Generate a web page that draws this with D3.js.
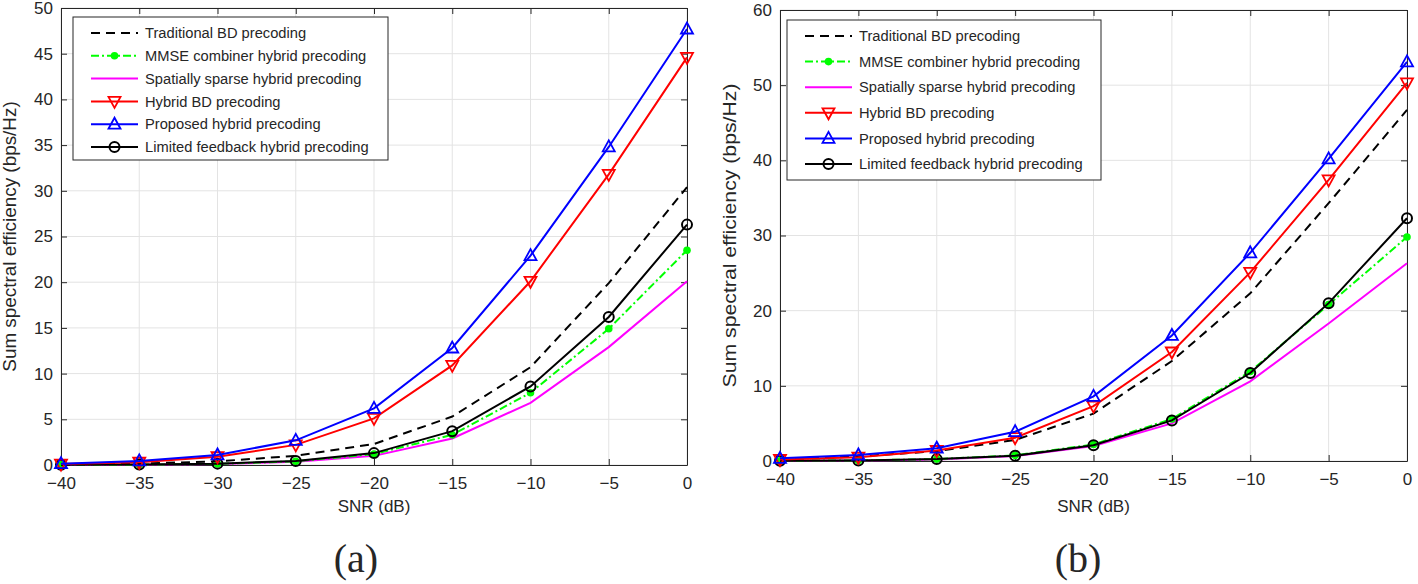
<!DOCTYPE html>
<html>
<head>
<meta charset="utf-8">
<script src="https://cdn.jsdelivr.net/npm/d3@7"></script>
<style>
  body { margin: 0; background: #fff; }
  text { font-family: "Liberation Sans", Arial, sans-serif; fill: #262626; }
</style>
</head>
<body>
<svg id="chart" width="1418" height="584"></svg>
<script>
// SNR (dB) samples, shared by both panels
var snr = [-40, -35, -30, -25, -20, -15, -10, -5, 0];
var xTicks = [-40, -35, -30, -25, -20, -15, -10, -5, 0];
var yTicksA = [0, 5, 10, 15, 20, 25, 30, 35, 40, 45, 50];
var yTicksB = [0, 10, 20, 30, 40, 50, 60];

var legendNames = [
  'Traditional BD precoding',
  'MMSE combiner hybrid precoding',
  'Spatially sparse hybrid precoding',
  'Hybrid BD precoding',
  'Proposed hybrid precoding',
  'Limited feedback hybrid precoding'
];

// panel (a)
var tradA   = [0.05, 0.15, 0.4, 1.0, 2.3, 5.3, 10.7, 19.9, 30.4];
var mmseA   = [0.01, 0.04, 0.12, 0.4, 1.2, 3.3, 7.9, 14.9, 23.5];
var sparseA = [0.01, 0.03, 0.1, 0.35, 1.0, 2.9, 6.8, 12.9, 20.1];
var hbdA    = [0.1, 0.3, 0.9, 2.2, 5.1, 10.9, 20.1, 31.8, 44.6];
var propA   = [0.15, 0.45, 1.1, 2.7, 6.2, 12.8, 22.9, 34.8, 47.7];
var lfA     = [0.02, 0.05, 0.15, 0.45, 1.3, 3.7, 8.6, 16.2, 26.3];

// panel (b)
var tradB   = [0.2, 0.6, 1.3, 2.8, 6.3, 13.3, 22.3, 34.3, 46.7];
var mmseB   = [0.03, 0.08, 0.25, 0.75, 2.2, 5.6, 11.9, 20.8, 29.8];
var sparseB = [0.02, 0.07, 0.2, 0.65, 2.0, 5.0, 10.6, 18.3, 26.3];
var hbdB    = [0.2, 0.5, 1.4, 3.1, 7.3, 14.5, 25.1, 37.4, 50.3];
var propB   = [0.35, 0.8, 1.7, 3.9, 8.6, 16.7, 27.7, 40.2, 53.1];
var lfB     = [0.03, 0.08, 0.25, 0.7, 2.1, 5.4, 11.7, 21.0, 32.3];

// line styles, same order as legendNames
var styles = [
  { color: '#000000', dash: '9,6',     marker: null },
  { color: '#00ff00', dash: '8,3,2,3', marker: 'dot' },
  { color: '#ff00ff', dash: null,      marker: null },
  { color: '#ff0000', dash: null,      marker: 'down' },
  { color: '#0000ff', dash: null,      marker: 'up' },
  { color: '#000000', dash: null,      marker: 'circle' }
];

var svg = d3.select('svg#chart');

function marker(g, type, cx, cy, color) {
  if (type === 'dot') {
    g.append('circle').attr('cx', cx).attr('cy', cy).attr('r', 3.8)
      .attr('fill', color);
  } else if (type === 'circle') {
    g.append('circle').attr('cx', cx).attr('cy', cy).attr('r', 5)
      .attr('fill', 'none').attr('stroke', color).attr('stroke-width', 2);
  } else if (type === 'up' || type === 'down') {
    var s = type === 'up' ? 1 : -1;
    var pts = [[cx, cy - 6.5 * s], [cx - 6, cy + 4.5 * s], [cx + 6, cy + 4.5 * s]];
    g.append('path').attr('d', 'M' + pts.join('L') + 'Z')
      .attr('fill', 'none').attr('stroke', color).attr('stroke-width', 1.8);
  }
}

function drawPanel(p) {
  var g = svg.append('g');
  var x = d3.scaleLinear().domain([-40, 0]).range([p.left, p.right]);
  var y = d3.scaleLinear().domain([0, p.yMax]).range([p.bottom, p.top]);

  // grid
  g.selectAll('.vg').data(xTicks).enter().append('line')
    .attr('x1', function(d) { return x(d); }).attr('x2', function(d) { return x(d); })
    .attr('y1', p.top).attr('y2', p.bottom)
    .attr('stroke', '#e3e3e3').attr('stroke-width', 1);
  g.selectAll('.hg').data(p.yTicks).enter().append('line')
    .attr('x1', p.left).attr('x2', p.right)
    .attr('y1', function(d) { return y(d); }).attr('y2', function(d) { return y(d); })
    .attr('stroke', '#e3e3e3').attr('stroke-width', 1);

  // axes, ticks pointing inwards
  g.append('g').attr('transform', 'translate(0,' + p.bottom + ')')
    .call(d3.axisBottom(x).tickValues(xTicks).tickSize(-6).tickSizeOuter(0).tickPadding(12));
  g.append('g').attr('transform', 'translate(' + p.left + ',0)')
    .call(d3.axisLeft(y).tickValues(p.yTicks).tickSize(-6).tickSizeOuter(0).tickPadding(8));
  g.append('g').attr('transform', 'translate(0,' + p.top + ')')
    .call(d3.axisTop(x).tickValues(xTicks).tickSize(-6).tickSizeOuter(0).tickFormat(''));
  g.append('g').attr('transform', 'translate(' + p.right + ',0)')
    .call(d3.axisRight(y).tickValues(p.yTicks).tickSize(-6).tickSizeOuter(0).tickFormat(''));
  g.selectAll('.domain, .tick line').attr('stroke', '#262626');
  g.selectAll('.tick text').attr('font-size', 17).attr('fill', '#262626')
    .style('font-family', '"Liberation Sans", Arial, sans-serif');

  // series
  var line = d3.line()
    .x(function(d, i) { return x(snr[i]); })
    .y(function(d) { return y(d); });
  var drawOrder = [2, 1, 0, 5, 3, 4];
  drawOrder.forEach(function(k) {
    var st = styles[k];
    g.append('path').datum(p.series[k])
      .attr('d', line)
      .attr('fill', 'none')
      .attr('stroke', st.color)
      .attr('stroke-width', 2)
      .attr('stroke-dasharray', st.dash);
    if (st.marker) {
      p.series[k].forEach(function(v, i) {
        marker(g, st.marker, x(snr[i]), y(v), st.color);
      });
    }
  });

  // legend
  var lg = g.append('g');
  lg.append('rect')
    .attr('x', p.legend.x).attr('y', p.legend.y)
    .attr('width', p.legend.w).attr('height', p.legend.h)
    .attr('fill', '#fff').attr('stroke', '#262626').attr('stroke-width', 1);
  legendNames.forEach(function(name, i) {
    var st = styles[i];
    var ly = p.legend.y + p.legend.first + i * p.legend.step;
    var x0 = p.legend.x + 18, x1 = x0 + 47;
    lg.append('line').attr('x1', x0).attr('x2', x1).attr('y1', ly).attr('y2', ly)
      .attr('stroke', st.color).attr('stroke-width', 2).attr('stroke-dasharray', st.dash);
    if (st.marker) marker(lg, st.marker, (x0 + x1) / 2, ly, st.color);
    lg.append('text').attr('x', x1 + 7).attr('y', ly).attr('dy', '0.35em')
      .attr('font-size', p.legend.font).text(name);
  });

  // labels
  g.append('text')
    .attr('transform', 'translate(' + p.yLabelX + ',' + ((p.top + p.bottom) / 2) + ') rotate(-90) scale(' + p.yLabelStretch + ',1)')
    .attr('text-anchor', 'middle').attr('font-size', 18)
    .text('Sum spectral efficiency (bps/Hz)');
  g.append('text')
    .attr('x', (p.left + p.right) / 2).attr('y', 512)
    .attr('text-anchor', 'middle').attr('font-size', 17)
    .text('SNR (dB)');
  g.append('text')
    .attr('x', p.captionX).attr('y', 572)
    .attr('text-anchor', 'middle').attr('font-size', 40)
    .style('font-family', '"Liberation Serif", "DejaVu Serif", serif')
    .attr('fill', '#111')
    .text(p.caption);
}

drawPanel({
  left: 61, right: 687, top: 8, bottom: 465, yMax: 50, yTicks: yTicksA,
  series: [tradA, mmseA, sparseA, hbdA, propA, lfA],
  legend: { x: 73, y: 17, w: 315, h: 143, first: 16, step: 22.8, font: 14.7 },
  yLabelX: 16, yLabelStretch: 1.05, captionX: 356, caption: '(a)'
});

drawPanel({
  left: 780, right: 1407, top: 10, bottom: 461, yMax: 60, yTicks: yTicksB,
  series: [tradB, mmseB, sparseB, hbdB, propB, lfB],
  legend: { x: 787, y: 20, w: 314, h: 160, first: 16, step: 25.6, font: 14.7 },
  yLabelX: 736, yLabelStretch: 1.18, captionX: 1078, caption: '(b)'
});
</script>
</body>
</html>
